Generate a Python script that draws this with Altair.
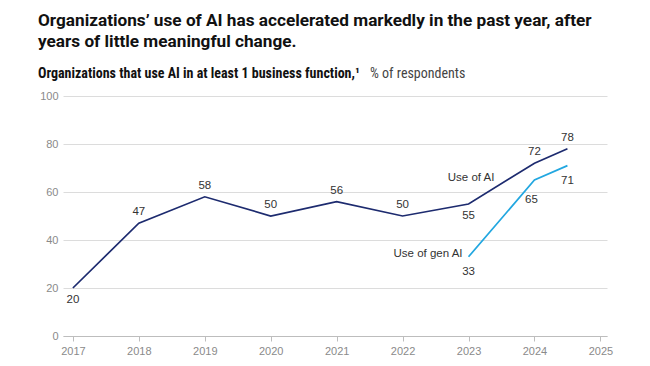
import altair as alt
import pandas as pd

# ---- data ----
years_ai = [2017, 2018, 2019, 2020, 2021, 2022, 2023, 2024, 2024.5]
use_ai = [20, 47, 58, 50, 56, 50, 55, 72, 78]
years_gen = [2023, 2024, 2024.5]
use_gen = [33, 65, 71]
series_names = ["Use of AI", "Use of gen AI"]
x_ticks = [2017, 2018, 2019, 2020, 2021, 2022, 2023, 2024, 2025]
y_ticks = [0, 10, 20, 30, 40, 50, 60, 70, 80, 90, 100]
title_lines = [
    "Organizations’ use of AI has accelerated markedly in the past year, after",
    "years of little meaningful change.",
]
subtitle_bold = "Organizations that use AI in at least 1 business function,¹"
subtitle_rest = "% of respondents"

df = pd.DataFrame(
    {
        "year": years_ai + years_gen,
        "value": use_ai + use_gen,
        "series": [series_names[0]] * len(years_ai) + [series_names[1]] * len(years_gen),
    }
)

FONT = "Liberation Sans, Arial, sans-serif"
TITLE_FONT = "Roboto, Liberation Sans, sans-serif"
NARROW = "Liberation Sans Narrow, Roboto Condensed, Liberation Sans, sans-serif"
NAVY = "#1d2b6f"
CYAN = "#22a7e0"

x_enc = alt.X(
    "year:Q",
    scale=alt.Scale(domain=[2016.85, 2025.1], nice=False, zero=False),
    axis=alt.Axis(
        values=x_ticks, format="d", title=None, grid=False,
        domainColor="#bdbdbd", tickColor="#bdbdbd", tickSize=5,
        labelColor="#8a8a8a", labelFontSize=11, labelPadding=4, labelFont=FONT,
    ),
)
y_enc = alt.Y(
    "value:Q",
    scale=alt.Scale(domain=[0, 100], nice=False),
    axis=alt.Axis(
        values=y_ticks, labelExpr="datum.value % 20 == 0 ? datum.label : ''",
        title=None, grid=True, gridColor="#dcdcdc", domain=False, ticks=False,
        labelPadding=5, labelColor="#8a8a8a", labelFontSize=11, labelFont=FONT,
    ),
)

base = alt.Chart(df)

lines = base.mark_line(strokeWidth=1.7).encode(
    x=x_enc, y=y_enc,
    color=alt.Color("series:N", scale=alt.Scale(domain=series_names, range=[NAVY, CYAN]), legend=None),
)

def labels(expr, dy, dx=0):
    return base.transform_filter(expr).mark_text(
        dy=dy, dx=dx, fontSize=11.5, color="#333", font=FONT
    ).encode(x="year:Q", y="value:Q", text="value:Q")

ai_above = labels("datum.series == 'Use of AI' && indexof([2018,2019,2020,2021,2022,2024,2024.5], datum.year) >= 0", -11)
ai_below = labels("datum.series == 'Use of AI' && indexof([2017,2023], datum.year) >= 0", 12)
gen_below = labels("datum.series == 'Use of gen AI' && datum.year != 2024", 15)
gen_65 = labels("datum.series == 'Use of gen AI' && datum.year == 2024", 20, -3)

ai_name = base.transform_filter("datum.series == 'Use of AI' && datum.year == 2024").mark_text(
    align="right", dx=-40, dy=15, fontSize=11.5, color="#333", font=FONT
).encode(x="year:Q", y="value:Q", text="series:N")
gen_name = base.transform_filter("datum.series == 'Use of gen AI' && datum.year == 2023").mark_text(
    align="right", dx=-6, dy=-3, fontSize=11.5, color="#333", font=FONT
).encode(x="year:Q", y="value:Q", text="series:N")

one = alt.Data(values=[{}])
t1 = alt.Chart(one).mark_text(align="left", fontSize=17.2, fontWeight="bold", font=TITLE_FONT, color="#111").encode(
    x=alt.value(-25), y=alt.value(-75), text=alt.value(title_lines[0]))
t2 = alt.Chart(one).mark_text(align="left", fontSize=17.2, fontWeight="bold", font=TITLE_FONT, color="#111").encode(
    x=alt.value(-25), y=alt.value(-54), text=alt.value(title_lines[1]))
s1 = alt.Chart(one).mark_text(align="left", fontSize=14, fontWeight="bold", font=NARROW, color="#111").encode(
    x=alt.value(-25), y=alt.value(-22), text=alt.value(subtitle_bold))
s2 = alt.Chart(one).mark_text(align="left", fontSize=14, font=NARROW, color="#444").encode(
    x=alt.value(307), y=alt.value(-22), text=alt.value(subtitle_rest))

chart = (
    alt.layer(lines, ai_above, ai_below, gen_below, gen_65, ai_name, gen_name, t1, t2, s1, s2)
    .properties(width=544, height=240, padding={"left": 55, "top": 88, "right": 20, "bottom": 25}, autosize="none")
    .configure_view(stroke=None)
)

chart.save("out.html", embed_options={"renderer": "svg", "actions": False})
